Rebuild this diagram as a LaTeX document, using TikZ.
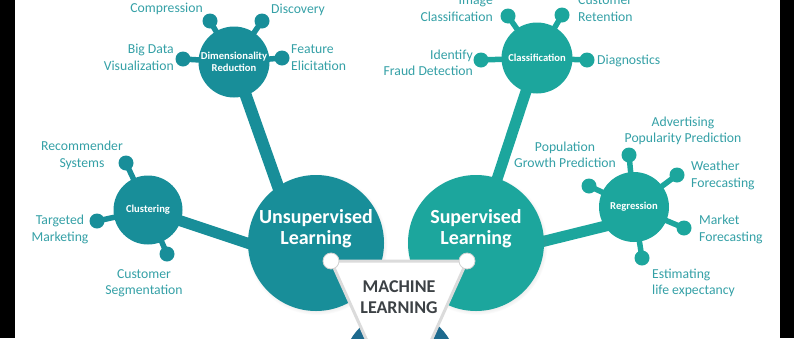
\documentclass[tikz,border=0pt]{standalone}
\usepackage{fontspec}
\setmainfont{Carlito}
\usetikzlibrary{positioning,backgrounds,shadows}

\definecolor{unsupteal}{HTML}{188E99}
\definecolor{supteal}{HTML}{1CA69D}
\definecolor{rlblue}{HTML}{1E6A8E}
\definecolor{lblteal}{HTML}{34A0A6}
\definecolor{mlgray}{HTML}{3C4145}

\begin{document}
\begin{tikzpicture}[x=1pt,y=-1pt,
  bigcirc/.style={circle,minimum size=136pt,inner sep=0pt,
    circular drop shadow={shadow xshift=.8pt,shadow yshift=-1.2pt,shadow scale=1.04,opacity=.3}},
  bigtext/.style={text=white,align=center,font=\bfseries\fontsize{20}{21}\selectfont},
  hub/.style={circle,minimum size=71pt,inner sep=0pt,text=white,align=center,
    font=\bfseries\fontsize{10.6}{12}\selectfont},
  dot/.style={circle,minimum size=15pt,inner sep=0pt},
  stub/.style={line width=5.5pt},
  stem/.style={line width=11pt},
  lbl/.style={text=lblteal,inner sep=0pt,font=\fontsize{13.7}{16.5}\selectfont},
  corner/.style={circle,fill=white,draw=black!18,line width=.8pt,minimum size=16pt,inner sep=0pt}]

\useasboundingbox (0,0) rectangle (794,338);

% side bars
\fill[black] (0,0) rectangle (15,338);
\fill[black] (780,0) rectangle (794,338);

% main branches
\node (unsup) [bigcirc,fill=unsupteal] at (316,243) {};
\node (sup) [bigcirc,fill=supteal] at (476,243) {};
\node (reinf) [circle,fill=rlblue,minimum size=114pt,inner sep=0pt] at (400,368) {};

% sub-topics
\node (dimred) [hub,fill=unsupteal] at (234,62) {Dimensionality\\Reduction};
\node (clust) [hub,fill=unsupteal,minimum size=69pt] at (148,210) {Clustering};
\node (classif) [hub,fill=supteal] at (537,58) {Classification};
\node (regr) [hub,fill=supteal,minimum size=70pt] at (634,207) {Regression};

% leaf dots
\foreach \n/\px/\py in {dra/210/21, drb/262/21, drc/183/59, drd/282/58,
                        cla/126/163, clb/97/221, clc/167/254}
  \node (\n) [dot,fill=unsupteal] at (\px,\py) {};
\foreach \n/\px/\py in {csa/508/16, csb/562/15, csc/481/60, csd/587/60,
                        rga/629/155, rgb/589/186, rgc/677/175, rgd/684/228, rge/642/258}
  \node (\n) [dot,fill=supteal] at (\px,\py) {};

\coordinate (unsuptop) at (298,243);
\coordinate (unsupside) at (316,266);
\coordinate (regrfoot) at (634,219);
\coordinate (supside) at (476,258);

\begin{scope}[on background layer]
  \draw[stem,unsupteal,line width=12pt] (dimred.center) -- (unsuptop);
  \draw[stem,unsupteal] (clust.center) -- (unsupside);
  \draw[stem,supteal] (classif.center) -- (sup.center);
  \draw[stem,supteal] (regrfoot) -- (supside);
  \foreach \n in {dra,drb,drc,drd}
    \draw[stub,unsupteal] (dimred.center) -- (\n.center);
  \foreach \n in {cla,clb,clc}
    \draw[stub,unsupteal] (clust.center) -- (\n.center);
  \foreach \n in {csa,csb,csc,csd}
    \draw[stub,supteal] (classif.center) -- (\n.center);
  \foreach \n in {rga,rgb,rgc,rgd,rge}
    \draw[stub,supteal] (regr.center) -- (\n.center);
\end{scope}

\node (unsuptxt) [bigtext] at ([yshift=14pt]unsup.center) {Unsupervised\\Learning};
\node (suptxt) [bigtext] at ([yshift=14pt]sup.center) {Supervised\\Learning};

% machine learning triangle
\coordinate (tl) at (331,261);
\coordinate (tr) at (467,261);
\coordinate (tb) at (399,412);
\filldraw[fill=white,draw=black!14,line width=3pt,line join=round] (tl) -- (tr) -- (tb) -- cycle;
\node (cornl) [corner] at (tl) {};
\node (cornr) [corner] at (tr) {};
\node (ml) [text=mlgray,align=center,font=\bfseries\fontsize{18}{21}\selectfont] at (399,297) {MACHINE\\LEARNING};

% labels
\node (compr) [lbl,anchor=east] at (203,9) {Compression};
\node (disco) [lbl,anchor=west] at (271,10) {Discovery};
\node (bigdata) [lbl,anchor=east,align=right] at (174,57.5) {Big Data\\Visualization};
\node (feat) [lbl,anchor=west,align=left] at (291,57.5) {Feature\\Elicitation};
\node (recom) [lbl,align=center] at (82,155.5) {Recommender\\Systems};
\node (target) [lbl,align=center] at (60,229.5) {Targeted\\Marketing};
\node (segm) [lbl,align=center] at (144,283) {Customer\\Segmentation};
\node (image) [lbl,anchor=east,align=right] at (493,8.5) {Image\\Classification};
\node (retent) [lbl,anchor=west,align=left] at (578,8.5) {Customer\\Retention};
\node (fraud) [lbl,anchor=east,align=right] at (473,63) {Identify\\Fraud Detection};
\node (diagn) [lbl,anchor=west] at (597,61) {Diagnostics};
\node (popul) [lbl,align=center] at (565,155) {Population\\Growth Prediction};
\node (advert) [lbl,align=center] at (683,131) {Advertising\\Popularity Prediction};
\node (weather) [lbl,anchor=west,align=left] at (691,175.5) {Weather\\Forecasting};
\node (market) [lbl,anchor=west,align=left] at (699,229.5) {Market\\Forecasting};
\node (life) [lbl,anchor=west,align=left] at (652,283) {Estimating\\life expectancy};

\end{tikzpicture}
\end{document}
